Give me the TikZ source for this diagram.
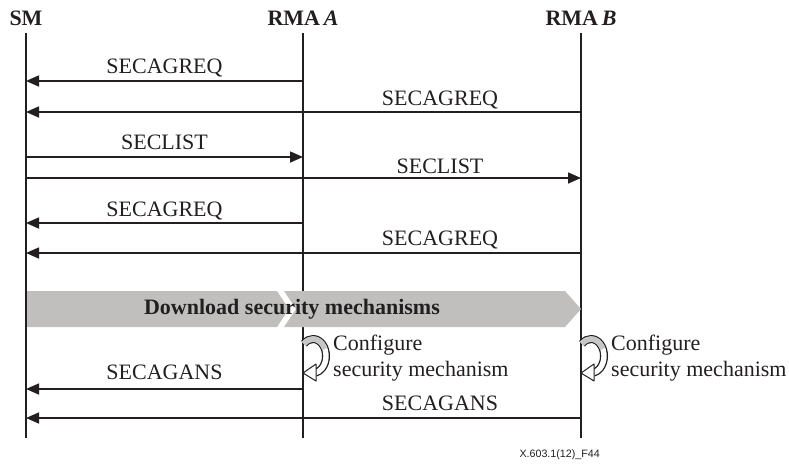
\documentclass[tikz,border=0pt]{standalone}
\usepackage{fontspec}
\setmainfont{Liberation Serif}
\newfontfamily\figfont{Liberation Sans}
\usetikzlibrary{arrows.meta}

\definecolor{ink}{HTML}{231F20}
\definecolor{bannergray}{HTML}{C0BFBE}
\definecolor{ribbongray}{HTML}{C6C6C6}

\tikzset{
  lifeline/.style={draw=ink, line width=1.8pt},
  msg/.style={draw=ink, line width=1.6pt, -{Triangle[length=13pt, width=11pt]}},
  msglabel/.style={anchor=base, inner sep=0pt, text=ink},
  headlabel/.style={anchor=base, inner sep=0pt, text=ink, font=\fontsize{22}{26}\selectfont\bfseries},
}

\begin{document}
\begin{tikzpicture}[x=1pt, y=-1pt, font=\fontsize{22}{26}\selectfont]
\useasboundingbox (0,0) rectangle (789,464);

% Lifeline positions
\def\xS{26}   % SM
\def\xA{303}  % RMA A
\def\xB{581}  % RMA B

% Heads
\node[headlabel] (sm) at (\xS, 25) {SM};
\node[headlabel] (rmaa) at (\xA, 25) {RMA\,\textit{A}};
\node[headlabel] (rmab) at (\xB, 25) {RMA\,\textit{B}};

% Lifelines
\foreach \nm/\xp in {sm/\xS, rmaa/\xA, rmab/\xB} {
  \coordinate (\nm-top) at (\xp, 33);
  \coordinate (\nm-bot) at (\xp, 438);
  \draw[lifeline] (\nm-top) -- (\nm-bot);
}

% Message rows (y of each arrow)
\foreach \i/\yv in {1/81, 2/112, 3/157, 4/178, 5/223, 6/253, 7/389, 8/418} {
  \coordinate (s\i) at (\xS, \yv);
  \coordinate (a\i) at (\xA, \yv);
  \coordinate (b\i) at (\xB, \yv);
}

% Messages: from/to/label position/baseline gap/label
\foreach \from/\to/\p/\gap/\lbl in {a1/s1/0.5/7.4/SECAGREQ, b2/s2/0.254/7/SECAGREQ,
    s3/a3/0.5/7.4/SECLIST, s4/b4/0.746/5/SECLIST, a5/s5/0.5/6.7/SECAGREQ,
    b6/s6/0.254/8/SECAGREQ, a7/s7/0.5/10/SECAGANS, b8/s8/0.254/8/SECAGANS} {
  \draw[msg] (\from) -- (\to) node[msglabel, pos=\p, yshift=\gap pt] {\lbl};
}

% Banner (two chevrons)
\fill[bannergray] (27,291) -- (277,291) -- (289,309) -- (277,327) -- (27,327) -- cycle;
\fill[bannergray] (284,291) -- (565,291) -- (581,309) -- (565,327) -- (284,327) -- (296,309) -- cycle;
\node[inner sep=0pt, text=ink, font=\fontsize{22}{26}\selectfont\bfseries] (banner) at (292,309)
  {Download security mechanisms};

% Configure loops at RMA A and RMA B
\foreach \nm/\xp in {a/\xA, b/\xB} {
  \begin{scope}[shift={(\xp,356)}, yscale=-1]
    \draw[ink, line width=8pt] (10,0) ++(134:13 and 17) arc[start angle=134, end angle=-80, x radius=13, y radius=17];
    \draw[white, line width=5.4pt] (10,0) ++(134:13 and 17) arc[start angle=134, end angle=-80, x radius=13, y radius=17];
    \draw[ribbongray, line width=5.4pt] (10,0) ++(134:13 and 17) arc[start angle=134, end angle=25, x radius=13, y radius=17];
    \filldraw[fill=white, draw=ink, line width=1pt, line join=round] (0,-17) -- (13,-8) -- (13,-25) -- cycle;
  \end{scope}
  \node[anchor=west, align=left, inner sep=0pt, text=ink] (cfg\nm) at ({\xp+30}, 358)
    {Configure\\security mechanism};
}

% Figure id
\node[anchor=east, inner sep=0pt, text=ink, font=\figfont\fontsize{10.7}{12}\selectfont] (figid) at (600,455)
  {X.603.1(12)\_F44};

\end{tikzpicture}
\end{document}
